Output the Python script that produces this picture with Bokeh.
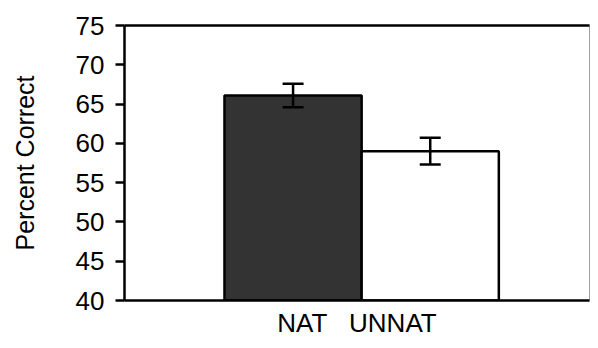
from bokeh.plotting import figure
from bokeh.models import (FactorRange, Range1d, ColumnDataSource, Whisker, TeeHead,
                          LinearAxis, SingleIntervalTicker, FixedTicker)
from bokeh.transform import dodge
from bokeh.embed import file_html
from bokeh.resources import INLINE

# ---- data ----
group_label = "NAT\u00a0\u00a0\u00a0UNNAT"
series = ["NAT", "UNNAT"]
means = [66.1, 59.0]
errors = [1.5, 1.7]
colors = ["#333333", "#ffffff"]
offsets = [-0.1375, 0.1575]
y_ticks_interval = 5
y_min, y_max = 40, 75

FONT = "Liberation Sans"

p = figure(width=590, height=340,
           x_range=FactorRange(factors=[group_label]),
           y_range=Range1d(y_min, y_max),
           output_backend="svg", toolbar_location=None,
           min_border_left=124, min_border_top=25,
           min_border_bottom=40, min_border_right=1)

for name, m, e, c, off in zip(series, means, errors, colors, offsets):
    src = ColumnDataSource(dict(cat=[group_label], mean=[m],
                                upper=[m + e], lower=[m - e]))
    p.vbar(x=dodge("cat", off, range=p.x_range), top="mean", bottom=y_min,
           width=0.295, source=src, fill_color=c,
           line_color="black", line_width=2.5)
    w = Whisker(base=dodge("cat", off, range=p.x_range), upper="upper",
                lower="lower", source=src, line_width=2.5, line_color="black",
                upper_head=TeeHead(size=21, line_width=2.5, line_color="black"),
                lower_head=TeeHead(size=21, line_width=2.5, line_color="black"),
                level="overlay")
    p.add_layout(w)

p.xgrid.grid_line_color = None
p.ygrid.grid_line_color = None
p.outline_line_color = "#a0a0a0"
p.outline_line_width = 1

# y axis
ya = p.yaxis[0]
ya.ticker = SingleIntervalTicker(interval=y_ticks_interval, num_minor_ticks=0)
ya.axis_line_width = 2.5
ya.axis_line_color = "black"
ya.major_tick_line_width = 2.5
ya.major_tick_line_color = "black"
ya.major_tick_out = 9
ya.major_tick_in = 0
ya.minor_tick_line_color = None
ya.major_label_standoff = 11
ya.major_label_text_font = FONT
ya.major_label_text_font_size = "26px"
ya.major_label_text_color = "black"
ya.axis_label = "Percent Correct"
ya.axis_label_text_font = FONT
ya.axis_label_text_font_size = "25px"
ya.axis_label_text_font_style = "normal"
ya.axis_label_text_color = "black"
ya.axis_label_standoff = 34

# x axis
xa = p.xaxis[0]
xa.axis_line_width = 2.5
xa.axis_line_color = "black"
xa.major_tick_line_color = None
xa.major_tick_out = 0
xa.major_tick_in = 0
xa.major_label_standoff = 7
xa.major_label_text_font = FONT
xa.major_label_text_font_size = "26px"
xa.major_label_text_color = "black"

# top border line
top = LinearAxis(ticker=FixedTicker(ticks=[]), axis_line_width=2.5,
                 axis_line_color="black", major_tick_line_color=None,
                 minor_tick_line_color=None, major_label_text_font_size="0px",
                 major_tick_out=0, minor_tick_out=0)
p.add_layout(top, "above")

open("out.html", "w").write(file_html(p, INLINE))
